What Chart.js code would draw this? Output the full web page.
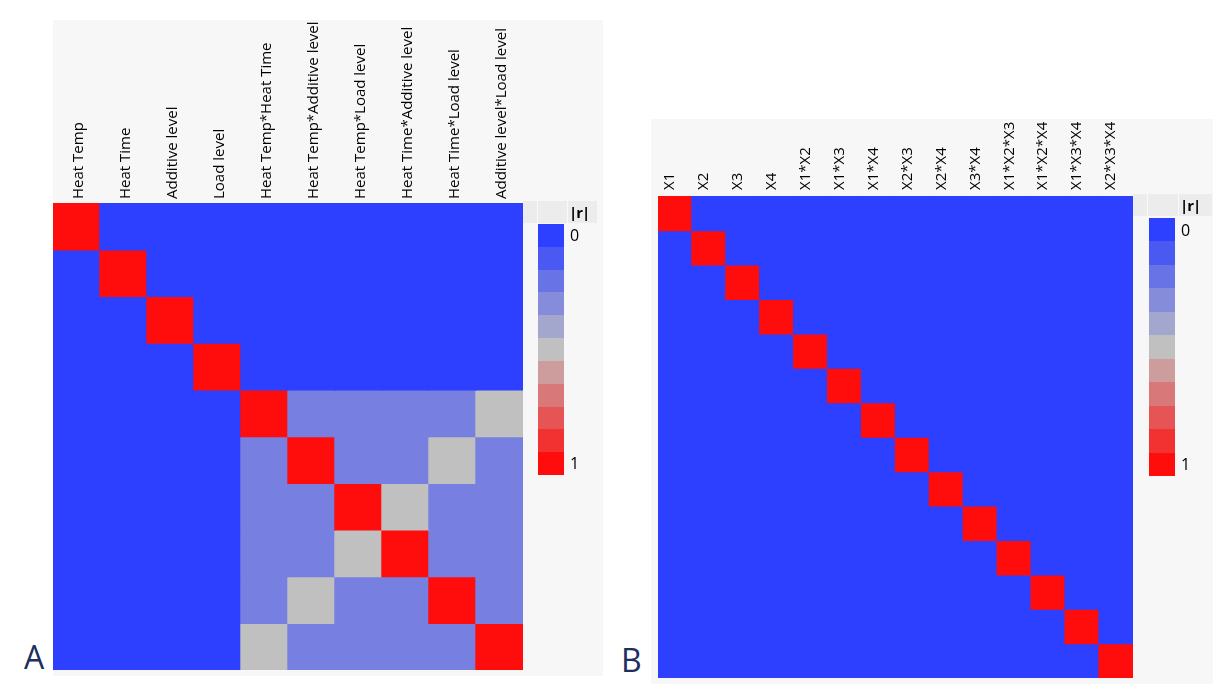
<!DOCTYPE html>
<html><head><meta charset="utf-8">
<script src="https://cdn.jsdelivr.net/npm/chart.js@4/dist/chart.umd.min.js"></script>
<style>
body{margin:0;background:#fff;width:1213px;height:697px;position:relative;overflow:hidden;font-family:'Open Sans',sans-serif;}
.panel{position:absolute;background:#f7f7f7;}
.hdr{position:absolute;background:#ececec;}
.sep{position:absolute;width:1px;background:#f9f9f9;}
.rlab{position:absolute;font-weight:bold;font-size:15px;color:#000;line-height:22px;letter-spacing:-1px;}
.tick{position:absolute;font-size:16px;color:#000;line-height:20px;}
.bar{position:absolute;display:flex;flex-direction:column;}
.bar div{flex:1 1 0;}
.plab{position:absolute;font-size:32px;line-height:1;color:#1c2f5e;}
</style></head><body>
<div class="panel" style="left:53px;top:20px;width:550px;height:656px"><canvas id="cA"></canvas></div>
<div class="panel" style="left:651px;top:119px;width:562px;height:565px"><canvas id="cB"></canvas></div>

<div class="hdr" style="left:523px;top:201px;width:74px;height:22px"></div>
<div class="sep" style="left:537px;top:201px;height:22px"></div>
<div class="sep" style="left:567px;top:201px;height:22px"></div>
<div class="rlab" style="left:569px;top:201px">|r|</div>
<div class="bar" id="legA" style="left:538px;top:224px;width:26px;height:251px"></div>
<div class="tick" id="a0" style="left:570px;top:225px">0</div>
<div class="tick" id="a1" style="left:570px;top:453px">1</div>

<div class="hdr" style="left:1133px;top:194px;width:79px;height:22px"></div>
<div class="sep" style="left:1147px;top:194px;height:22px"></div>
<div class="sep" style="left:1178px;top:194px;height:22px"></div>
<div class="rlab" style="left:1180px;top:194px">|r|</div>
<div class="bar" id="legB" style="left:1149px;top:218px;width:26px;height:258px"></div>
<div class="tick" id="b0" style="left:1181px;top:220px">0</div>
<div class="tick" id="b1" style="left:1181px;top:454px">1</div>

<div class="plab" style="left:24px;top:641px">A</div>
<div class="plab" style="left:621px;top:644px">B</div>

<script>
// ---- data ----
const labelsA = ['Heat Temp','Heat Time','Additive level','Load level','Heat Temp*Heat Time','Heat Temp*Additive level','Heat Temp*Load level','Heat Time*Additive level','Heat Time*Load level','Additive level*Load level'];
const rA_row0 = [1,0,0,0,0,0,0,0,0,0];
const rA_row1 = [0,1,0,0,0,0,0,0,0,0];
const rA_row2 = [0,0,1,0,0,0,0,0,0,0];
const rA_row3 = [0,0,0,1,0,0,0,0,0,0];
const rA_row4 = [0,0,0,0,1,0.25,0.25,0.25,0.25,0.5];
const rA_row5 = [0,0,0,0,0.25,1,0.25,0.25,0.5,0.25];
const rA_row6 = [0,0,0,0,0.25,0.25,1,0.5,0.25,0.25];
const rA_row7 = [0,0,0,0,0.25,0.25,0.5,1,0.25,0.25];
const rA_row8 = [0,0,0,0,0.25,0.5,0.25,0.25,1,0.25];
const rA_row9 = [0,0,0,0,0.5,0.25,0.25,0.25,0.25,1];
const rA = [rA_row0,rA_row1,rA_row2,rA_row3,rA_row4,rA_row5,rA_row6,rA_row7,rA_row8,rA_row9];

const labelsB = ['X1','X2','X3','X4','X1*X2','X1*X3','X1*X4','X2*X3','X2*X4','X3*X4','X1*X2*X3','X1*X2*X4','X1*X3*X4','X2*X3*X4'];
const rB = [
  [1,0,0,0,0,0,0,0,0,0,0,0,0,0],
  [0,1,0,0,0,0,0,0,0,0,0,0,0,0],
  [0,0,1,0,0,0,0,0,0,0,0,0,0,0],
  [0,0,0,1,0,0,0,0,0,0,0,0,0,0],
  [0,0,0,0,1,0,0,0,0,0,0,0,0,0],
  [0,0,0,0,0,1,0,0,0,0,0,0,0,0],
  [0,0,0,0,0,0,1,0,0,0,0,0,0,0],
  [0,0,0,0,0,0,0,1,0,0,0,0,0,0],
  [0,0,0,0,0,0,0,0,1,0,0,0,0,0],
  [0,0,0,0,0,0,0,0,0,1,0,0,0,0],
  [0,0,0,0,0,0,0,0,0,0,1,0,0,0],
  [0,0,0,0,0,0,0,0,0,0,0,1,0,0],
  [0,0,0,0,0,0,0,0,0,0,0,0,1,0],
  [0,0,0,0,0,0,0,0,0,0,0,0,0,1]
];
const legendSteps = [0,0.1,0.2,0.3,0.4,0.5,0.6,0.7,0.8,0.9,1];
const legendTicks = ['0','1'];

// ---- colour scale: blue (0) -> grey (0.5) -> red (1) ----
const C0 = [45,63,255], CM = [192,192,192], C1 = [255,13,13];
function colorFor(v){
  let a,b,t;
  if (v <= 0.5){ a=C0; b=CM; t=v/0.5; } else { a=CM; b=C1; t=(v-0.5)/0.5; }
  const c = a.map((x,i)=>Math.round(x+(b[i]-x)*t));
  return 'rgb('+c.join(',')+')';
}

function makeHeat(id, labels, matrix, axisH, tickPad, labelOff, pad){
  const datasets = matrix.map((row,i)=>({
    label: labels[i],
    data: row.map(()=>1),          // each cell occupies one unit row
    backgroundColor: row.map(v=>colorFor(v)),
    borderWidth: 0,
    inflateAmount: 0.7,
    barPercentage: 1,
    categoryPercentage: 1,
    stack: 'rows'
  }));
  return new Chart(document.getElementById(id), {
    type: 'bar',
    data: { labels: labels, datasets: datasets },
    options: {
      responsive: true, maintainAspectRatio: false, animation: false,
      layout: { padding: pad },
      plugins: { legend: {display:false}, tooltip: {enabled:false} },
      scales: {
        x: {
          position: 'top', stacked: true,
          grid: { display:false, drawTicks:false }, border: { display:false },
          ticks: { autoSkip:false, minRotation:90, maxRotation:90, padding: tickPad, labelOffset: labelOff,
                   color:'#000', font: { family:'Open Sans', size:15 } },
          afterFit: s => { s.height = axisH; }
        },
        y: { display:false, stacked:true, reverse:true, min:0, max:matrix.length }
      }
    }
  });
}

makeHeat('cA', labelsA, rA, 183, 4, 20, {left:0, right:80, top:0, bottom:6});
makeHeat('cB', labelsB, rB, 77, 6, 13, {left:1, right:80, top:0, bottom:6});

function fillLegend(id){
  const el = document.getElementById(id);
  legendSteps.forEach(v=>{ const d=document.createElement('div'); d.style.background=colorFor(v); el.appendChild(d); });
}
fillLegend('legA'); fillLegend('legB');
document.getElementById('a0').textContent = legendTicks[0];
document.getElementById('a1').textContent = legendTicks[1];
document.getElementById('b0').textContent = legendTicks[0];
document.getElementById('b1').textContent = legendTicks[1];
</script>
</body></html>
